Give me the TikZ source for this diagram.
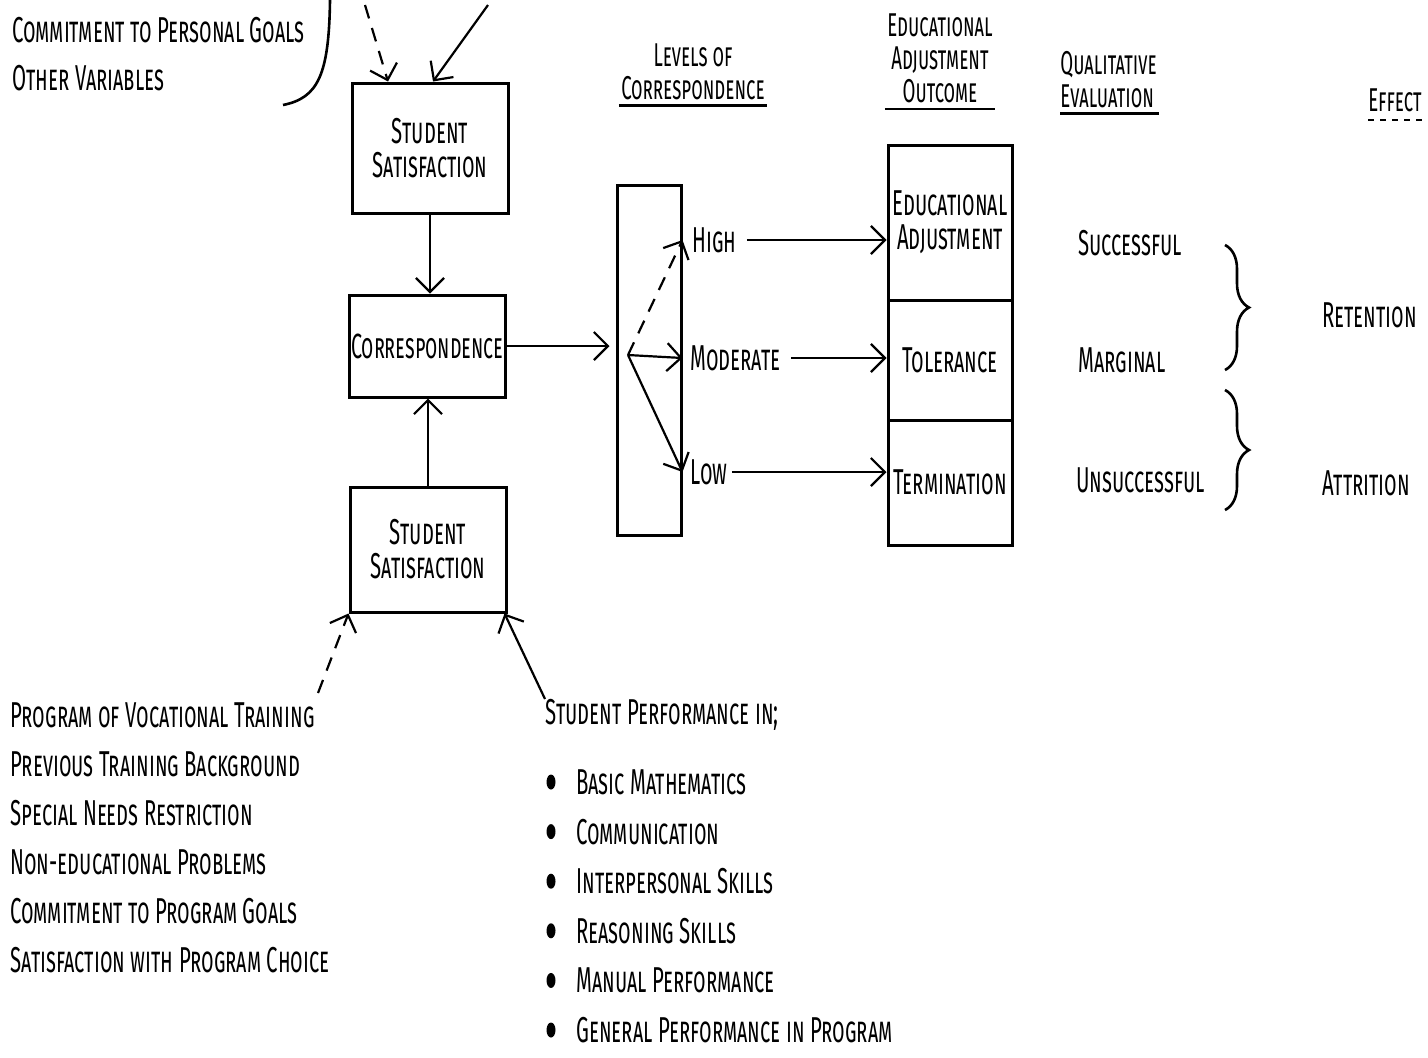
\documentclass[tikz,border=0pt]{standalone}
\usepackage{fontspec}
\setmainfont{Fira Sans}[FakeStretch=0.565]
\usetikzlibrary{arrows.meta,calc,decorations.pathreplacing}

\begin{document}
\begin{tikzpicture}[x=0.5pt,y=-0.5pt,
  txt/.style={font=\scshape\fontsize{18}{17}\selectfont,inner sep=0pt},
  hdr/.style={txt,align=center,font=\scshape\fontsize{16.5}{16.5}\selectfont},
  box/.style={draw,line width=1.5pt,txt,align=center},
  arr/.style={line width=1.1pt,-{Straight Barb[length=7pt,width=14pt,line width=1.1pt]}},
  dsh/.style={dash pattern=on 7pt off 5pt},
  uline/.style={line width=1.3pt}]
\useasboundingbox (0,0) rectangle (1428,1057);

% boxes of the left column
\node[box,minimum width=78pt,minimum height=65pt] (satTop) at (430,148) {Student\\Satisfaction};
\node[box,minimum width=78pt,minimum height=51pt,font=\scshape\fontsize{17.5}{17}\selectfont] (corr) at (427.5,346) {Correspondence};
\node[box,minimum width=78pt,minimum height=62.5pt] (satBot) at (428,549.5) {Student\\Satisfaction};
\draw[arr] (satTop.south) -- (satTop.south |- corr.north);
\draw[arr] (satBot.north) -- (satBot.north |- corr.south);

% inputs on top
\node[txt,anchor=west] (persGoals) at (12,30) {Commitment to Personal Goals};
\node[txt,anchor=west] (otherVar) at (12,78) {Other Variables};
\draw[line width=1.3pt] (330,0) .. controls (329,75) and (318,98) .. (283,105);
\coordinate (inDash) at (365,5);
\coordinate (inSolid) at (488,5);
\draw[arr,dsh] (inDash) -- ($(satTop.north)+(-42,0)$);
\draw[arr] (inSolid) -- ($(satTop.north)+(3,0)$);

% inputs below
\foreach \t [count=\i from 0] in {Program of Vocational Training,Previous Training Background,Special Needs Restriction,Non-educational Problems,Commitment to Program Goals,Satisfaction with Program Choice}
  \node[txt,anchor=west] (prog\i) at (10,{715+49*\i}) {\t};
\coordinate (progEnd) at (318,693);
\draw[arr,dsh] (progEnd) -- (satBot.south west);
\node[txt,anchor=west] (perf) at (545,715) {Student Performance in;};
\foreach \t [count=\i from 0] in {Basic Mathematics,Communication,Interpersonal Skills,Reasoning Skills,Manual Performance,General Performance in Program}
{
  \fill (551,{782+49.6*\i}) ellipse (4.5 and 7.5);
  \node[txt,anchor=west] (skill\i) at (576,{782+49.6*\i}) {\t};
}
\draw[arr] (perf.north west) -- ($(satBot.south east)+(-3,0)$);

% levels of correspondence
\node[draw,line width=1.5pt,minimum width=32pt,minimum height=175pt] (levels) at (649,360) {};
\draw[arr,shorten >=3pt] (corr.east) -- (corr.east -| levels.west);
\node[txt,anchor=west] (high) at (692,240) {High};
\node[txt,anchor=west] (moderate) at (690,358) {Moderate};
\node[txt,anchor=west] (low) at (690,472) {Low};
\coordinate (fan) at (628,355);
\draw[arr,dsh] (fan) -- (high.west -| levels.east);
\draw[arr] (fan) -- (moderate.west -| levels.east);
\draw[arr] (fan) -- (low.west -| levels.east);

% outcomes
\node[box,minimum width=62pt,minimum height=77.5pt] (adj) at (950,222.5) {Educational\\Adjustment};
\node[box,minimum width=62pt,minimum height=60pt] (tol) at (950,360) {Tolerance};
\node[box,minimum width=62pt,minimum height=62.5pt] (term) at (950,482.5) {Termination};
\draw[arr] ([xshift=5pt]high.east) -- (high.east -| adj.west);
\draw[arr] ([xshift=5pt]moderate.east) -- (moderate.east -| tol.west);
\draw[arr] ([xshift=2pt]low.east) -- (low.east -| term.west);

% evaluation and effect
\node[txt,anchor=west] (succ) at (1078,243) {Successful};
\node[txt,anchor=west] (marg) at (1078,360) {Marginal};
\node[txt,anchor=west] (unsucc) at (1076,480) {Unsuccessful};
\draw[line width=1.3pt,decorate,decoration={brace,amplitude=12pt}] (1225,245) -- (1225,370);
\draw[line width=1.3pt,decorate,decoration={brace,amplitude=12pt}] (1225,390) -- (1225,510);
\node[txt,anchor=west] (ret) at (1322,315) {Retention};
\node[txt,anchor=west] (attr) at (1322,483) {Attrition};

% column headings
\node[hdr] (hdrLev) at (693,72) {Levels of\\Correspondence};
\node[hdr] (hdrOut) at (940,58) {Educational\\Adjustment\\Outcome};
\node[hdr,align=left,anchor=west] (hdrQual) at (1060,80) {Qualitative\\Evaluation};
\node[hdr] (hdrEff) at (1395,100) {Effect};
\draw[uline] ($(hdrLev.south west)+(-2,5)$) -- ($(hdrLev.south east)+(2,5)$);
\draw[uline] ($(hdrOut.south west)+(-2,6)$) -- ($(hdrOut.south east)+(2,6)$);
\draw[uline] ($(hdrQual.south west)+(0,5)$) -- ($(hdrQual.south east)+(2,5)$);
\draw[line width=0.8pt,dashed] ($(hdrEff.south west)+(0,8)$) -- ($(hdrEff.south east)+(0,8)$);
\end{tikzpicture}
\end{document}
